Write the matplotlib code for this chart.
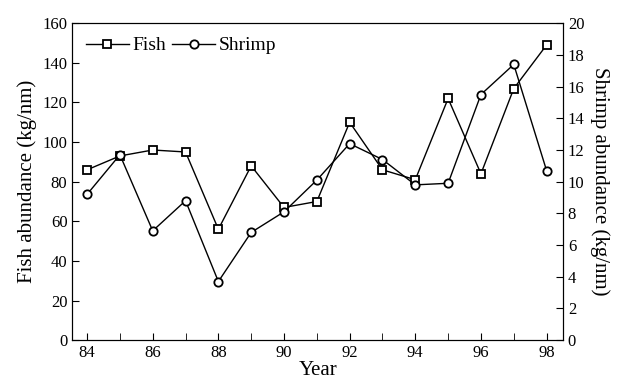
import matplotlib
matplotlib.use("Agg")
import matplotlib.pyplot as plt
import numpy as np

years = [84, 85, 86, 87, 88, 89, 90, 91, 92, 93, 94, 95, 96, 97, 98]
fish = [86, 93, 96, 95, 56, 88, 67, 70, 110, 86, 81, 122, 84, 127, 149]
shrimp = [9.2, 11.7, 6.9, 8.8, 3.7, 6.8, 8.1, 10.1, 12.4, 11.4, 9.8, 9.9, 15.5, 17.4, 10.7]

plt.rcParams['font.family'] = ['Liberation Serif', 'DejaVu Serif']
plt.rcParams['font.size'] = 12

fig, ax = plt.subplots(figsize=(6.18, 3.87), dpi=100)
fig.subplots_adjust(left=0.117, right=0.911, top=0.94, bottom=0.121)
ax2 = ax.twinx()

l1, = ax.plot(years, fish, color='black', lw=1, marker='s', ms=6,
              mfc='white', mec='black', mew=1.3, label='Fish')
l2, = ax2.plot(years, shrimp, color='black', lw=1, marker='o', ms=6,
               mfc='white', mec='black', mew=1.3, label='Shrimp')

ax.set_xlim(83.55, 98.5)
ax.set_ylim(0, 160)
ax2.set_ylim(0, 20)
ax.set_xticks(np.arange(84, 99, 2))
ax.set_xticks(np.arange(85, 99, 2), minor=True)
ax.set_yticks(np.arange(0, 161, 20))
ax2.set_yticks(np.arange(0, 21, 2))

ax.tick_params(axis='both', which='both', direction='in', labelsize=12)
ax.tick_params(which='major', length=5)
ax.tick_params(which='minor', length=5)
ax2.tick_params(direction='in', length=5, labelsize=12)

ax.set_xlabel('Year', fontsize=15, labelpad=0)
ax.set_ylabel('Fish abundance (kg/nm)', fontsize=15)
ax2.set_ylabel('Shrimp abundance (kg/nm)', fontsize=15, rotation=270, labelpad=18)

ax.legend([l1, l2], ['Fish', 'Shrimp'], loc='upper left', ncol=2, frameon=False,
          fontsize=14, handlelength=2.2, handletextpad=0.2, columnspacing=0.3,
          borderaxespad=0.3)

fig.savefig('out.png', dpi=100)
